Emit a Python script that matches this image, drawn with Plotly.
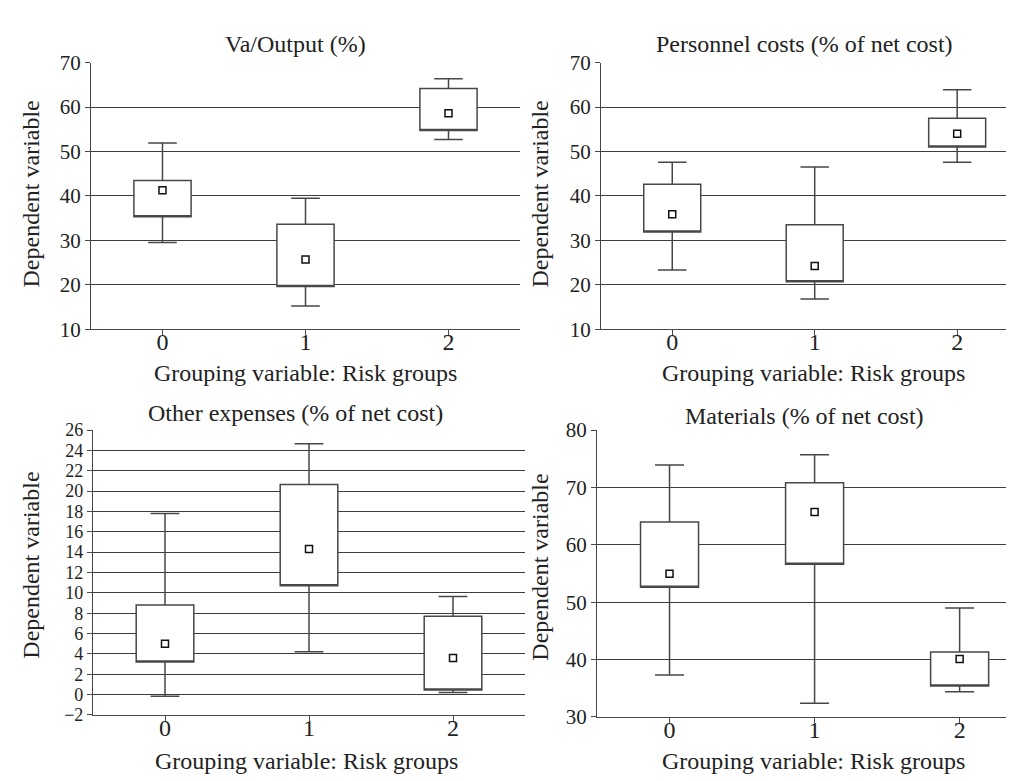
import plotly.graph_objects as go

W, H = 1014, 781

groups = [0, 1, 2]

# Panel data: quartiles, whiskers, medians
va_q1 = [35.3, 19.6, 54.7]
va_q3 = [43.5, 33.6, 64.2]
va_med = [41.3, 25.7, 58.6]
va_lo = [29.5, 15.2, 52.7]
va_hi = [51.9, 39.5, 66.4]

pc_q1 = [31.9, 20.7, 51.0]
pc_q3 = [42.6, 33.5, 57.5]
pc_med = [35.9, 24.2, 54.0]
pc_lo = [23.3, 16.8, 47.6]
pc_hi = [47.6, 46.5, 63.9]

oe_q1 = [3.2, 10.7, 0.45]
oe_q3 = [8.8, 20.65, 7.7]
oe_med = [5.0, 14.3, 3.6]
oe_lo = [-0.15, 4.2, 0.2]
oe_hi = [17.8, 24.66, 9.65]

ma_q1 = [52.6, 56.6, 35.4]
ma_q3 = [63.95, 70.8, 41.3]
ma_med = [54.95, 65.7, 40.1]
ma_lo = [37.3, 32.4, 34.4]
ma_hi = [73.9, 75.7, 49.0]

titles = ["Va/Output (%)", "Personnel costs (% of net cost)",
          "Other expenses (% of net cost)", "Materials (% of net cost)"]
y_title = "Dependent variable"
x_title = "Grouping variable: Risk groups"

va_ticks = [10, 20, 30, 40, 50, 60, 70]
pc_ticks = [10, 20, 30, 40, 50, 60, 70]
oe_ticks = [-2, 0, 2, 4, 6, 8, 10, 12, 14, 16, 18, 20, 22, 24, 26]
ma_ticks = [30, 40, 50, 60, 70, 80]

FONT = "Liberation Serif"
TXT = "#222222"
LINE = "#474747"
GRID = "#3c3c3c"


def px_x(x):
    return x / W


def px_y(y):
    return 1 - y / H


# panel pixel boxes: (left, right, top, bottom)
panels = [
    dict(box=(83, 512, 44, 319), xr=[-0.5, 2.5], yr=[10, 70], ticks=va_ticks,
         data=(va_q1, va_q3, va_med, va_lo, va_hi), yfs=21,
         title_xy=(287, 25), ytitle_xy=(23, 180), xtitle_xy=(297, 364)),
    dict(box=(593, 1014, 44, 319), xr=[-0.5, 2.455], yr=[10, 70], ticks=pc_ticks,
         data=(pc_q1, pc_q3, pc_med, pc_lo, pc_hi), yfs=21,
         title_xy=(796, 25), ytitle_xy=(532, 180), xtitle_xy=(805, 364)),
    dict(box=(85, 517, 423, 717), xr=[-0.5, 2.5], yr=[-2, 26], ticks=oe_ticks,
         data=(oe_q1, oe_q3, oe_med, oe_lo, oe_hi), yfs=18,
         title_xy=(287, 405), ytitle_xy=(23, 563), xtitle_xy=(298, 765)),
    dict(box=(589, 1014, 423, 719), xr=[-0.5, 2.43], yr=[30, 80], ticks=ma_ticks,
         data=(ma_q1, ma_q3, ma_med, ma_lo, ma_hi), yfs=21,
         title_xy=(796, 409), ytitle_xy=(532, 565), xtitle_xy=(805, 765)),
]

fig = go.Figure()
annotations = []
layout_axes = {}

for i, p in enumerate(panels):
    n = i + 1
    xa = "x" if n == 1 else f"x{n}"
    ya = "y" if n == 1 else f"y{n}"
    q1, q3, med, lo, hi = p["data"]
    fig.add_trace(go.Box(
        x=groups, q1=q1, median=q1, q3=q3, lowerfence=lo, upperfence=hi,
        width=0.4, whiskerwidth=0.5, fillcolor="white",
        line=dict(color=LINE, width=1.5), boxpoints=False,
        xaxis=xa, yaxis=ya, showlegend=False, hoverinfo="skip",
    ))
    fig.add_trace(go.Scatter(
        x=groups, y=med, mode="markers",
        marker=dict(symbol="square-open", size=7, color="#111111",
                    line=dict(width=1.5, color="#111111")),
        xaxis=xa, yaxis=ya, showlegend=False, hoverinfo="skip",
    ))
    l, r, t, b = p["box"]
    xkey = "xaxis" if n == 1 else f"xaxis{n}"
    ykey = "yaxis" if n == 1 else f"yaxis{n}"
    layout_axes[xkey] = dict(
        domain=[px_x(l), min(px_x(r), 1.0)], range=p["xr"], anchor=ya,
        tickmode="array", tickvals=groups, ticktext=[str(g) for g in groups],
        showgrid=False, zeroline=False, showline=True, linecolor=LINE,
        linewidth=1.2, ticks="outside", ticklen=5, tickcolor=LINE,
        ticklabelstandoff=-14,
        tickfont=dict(family=FONT, size=24, color=TXT),
    )
    layout_axes[ykey] = dict(
        domain=[px_y(b), px_y(t)], range=p["yr"], anchor=xa,
        tickmode="array", tickvals=p["ticks"],
        showgrid=True, gridcolor=GRID, gridwidth=1, zeroline=False,
        showline=True, linecolor=LINE, linewidth=1.2, ticks="outside",
        ticklen=5, tickcolor=LINE,
        tickfont=dict(family=FONT, size=p["yfs"], color=TXT),
    )
    tx, ty = p["title_xy"]
    annotations.append(dict(text=titles[i], x=px_x(tx), y=px_y(ty),
                            xref="paper", yref="paper", showarrow=False,
                            xanchor="center", yanchor="middle",
                            font=dict(family=FONT, size=24, color=TXT)))
    yx, yy = p["ytitle_xy"]
    annotations.append(dict(text=y_title, x=px_x(yx), y=px_y(yy),
                            xref="paper", yref="paper", showarrow=False,
                            textangle=-90, xanchor="center", yanchor="middle",
                            font=dict(family=FONT, size=24, color=TXT)))
    xx, xy = p["xtitle_xy"]
    annotations.append(dict(text=x_title, x=px_x(xx), y=px_y(xy),
                            xref="paper", yref="paper", showarrow=False,
                            xanchor="center", yanchor="middle",
                            font=dict(family=FONT, size=24, color=TXT)))

fig.update_layout(
    width=W, height=H,
    margin=dict(l=0, r=0, t=0, b=0),
    paper_bgcolor="white", plot_bgcolor="white",
    annotations=annotations,
    **layout_axes,
)

fig.write_html("out.html")
